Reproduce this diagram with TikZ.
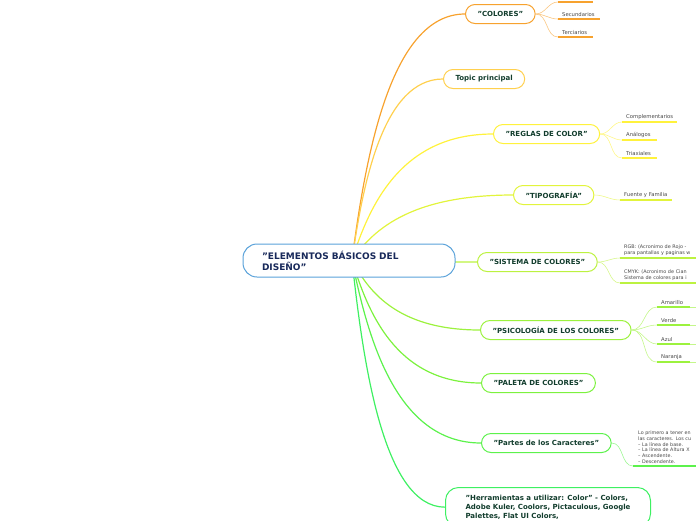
\documentclass[tikz,border=0pt]{standalone}
\usepackage{fontspec}
\setmainfont{DejaVu Sans}
\usetikzlibrary{positioning,calc,backgrounds}
\definecolor{mainblue}{HTML}{5AA2DA}
\definecolor{maintext}{HTML}{18295A}
\definecolor{topictext}{HTML}{123D2D}
\definecolor{subtext}{HTML}{474747}
\definecolor{cColores}{HTML}{F7A22E}
\definecolor{cTopic}{HTML}{FFD04E}
\definecolor{cReglas}{HTML}{FFF23C}
\definecolor{cTipo}{HTML}{E2F43C}
\definecolor{cSistema}{HTML}{BCF240}
\definecolor{cPsico}{HTML}{9CF23E}
\definecolor{cPaleta}{HTML}{7CF23E}
\definecolor{cPartes}{HTML}{5CF24C}
\definecolor{cHerr}{HTML}{3EF062}
\tikzset{
  mapmain/.style={draw=mainblue, line width=1pt, rounded corners=14pt, fill=white,
    minimum width=212pt, minimum height=33pt, text width=174pt, align=left,
    font=\fontsize{9}{11}\selectfont\bfseries, text=maintext},
  maptopic/.style={draw=#1, line width=1pt, rounded corners=9.5pt, fill=white,
    minimum height=19pt, inner xsep=12pt, font=\fontsize{7}{8}\selectfont\bfseries,
    text=topictext, anchor=west},
  mapbranch/.style={draw=#1, line width=1.2pt},
  mapsub/.style={anchor=south west, inner xsep=4pt, inner ysep=2.5pt,
    align=left, font=\fontsize{5.3}{6.2}\selectfont, text=subtext},
  mapline/.style={draw=#1, line width=1.5pt},
  maptwig/.style={draw=#1!60, line width=0.6pt},
}

\begin{document}
\begin{tikzpicture}[x=1pt, y=-1pt]
  \useasboundingbox (0,0) rectangle (696,520);
  % tema central
  \node[mapmain] (main) at (349,260.5) {"ELEMENTOS BÁSICOS DEL\\DISEÑO"};
  \coordinate (hub) at (352,260);
  % temas principales
  \node[maptopic=cColores] (colores) at (465,14) {"COLORES"};
  \node[maptopic=cTopic] (topic) at (443,79) {Topic principal};
  \node[maptopic=cReglas] (reglas) at (493,134) {"REGLAS DE COLOR"};
  \node[maptopic=cTipo] (tipo) at (513,195) {"TIPOGRAFÍA"};
  \node[maptopic=cSistema] (sistema) at (477,262) {"SISTEMA DE COLORES"};
  \node[maptopic=cPsico] (psico) at (480,330) {"PSICOLOGÍA DE LOS COLORES"};
  \node[maptopic=cPaleta] (paleta) at (481,383) {"PALETA DE COLORES"};
  \node[maptopic=cPartes] (partes) at (481,443) {"Partes de los Caracteres"};
  \node[maptopic=cHerr, anchor=north west, align=left, rounded corners=13pt, inner xsep=15pt,
    inner ysep=7.5pt, minimum width=205pt, font=\fontsize{7}{9}\selectfont\bfseries] (herr) at (445,487)
    {"Herramientas a utilizar: Color" - Colors,\\Adobe Kuler, Coolors, Pictaculous, Google\\Palettes, Flat UI Colors,};
  % subtemas
  \coordinate (prim1) at (558,2);
  \coordinate (prim2) at (593,2);
  \node[mapsub, text width=34pt] (secund) at (558,19) {Secundarios};
  \node[mapsub, text width=27pt] (terc) at (558,37) {Terciarios};
  \node[mapsub] (compl) at (622,122) {Complementarios};
  \node[mapsub, text width=27pt] (analog) at (622,140) {Análogos};
  \node[mapsub, text width=27pt] (triax) at (622,158) {Triaxiales};
  \node[mapsub] (fuente) at (620,200) {Fuente y Familia};
  \node[mapsub, text width=82pt, font=\fontsize{4.9}{6.2}\selectfont] (rgb) at (620,258)
    {RGB: (Acronimo de Rojo -\\para pantallas y paginas w};
  \node[mapsub, text width=82pt, font=\fontsize{4.9}{6.2}\selectfont] (cmyk) at (620,283)
    {CMYK: (Acronimo de Cian\\Sistema de colores para i};
  \node[mapsub, text width=25pt] (amar) at (657,307) {Amarillo};
  \node[mapsub, text width=25pt] (verde) at (657,325) {Verde};
  \node[mapsub, text width=25pt] (azul) at (657,344) {Azul};
  \node[mapsub, text width=25pt] (naran) at (657,362) {Naranja};
  \node[mapsub, text width=62pt, inner xsep=5pt, font=\fontsize{4.8}{5.7}\selectfont] (lineas) at (633,466)
    {Lo primero a tener en\\las caracteres. Los cu\\– La línea de base.\\– La línea de Altura X\\– Ascendente.\\– Descendente.};
  \coordinate (edge) at (700,0);
  % ramas
  \begin{scope}[on background layer]
    \foreach \t/\c in {colores/cColores, topic/cTopic, reglas/cReglas, tipo/cTipo, sistema/cSistema,
                       psico/cPsico, paleta/cPaleta, partes/cPartes, herr/cHerr}
      \draw[mapbranch=\c] let \p1=(hub), \p2=(\t.west) in
        (\p1) .. controls (\x1+0.12*\x2-0.12*\x1, \y1+0.42*\y2-0.42*\y1)
                     and (\x1+0.34*\x2-0.34*\x1, \y2) .. (\p2);
  \end{scope}
  % subramas
  \draw[maptwig=cColores] (colores.east) to[out=0, in=180] (prim1);
  \draw[mapline=cColores] (prim1) -- (prim2);
  \foreach \s in {secund,terc} {
    \draw[maptwig=cColores] (colores.east) to[out=0, in=180] (\s.south west);
    \draw[mapline=cColores] (\s.south west) -- (\s.south east);
  }
  \foreach \s in {compl,analog,triax} {
    \draw[maptwig=cReglas] (reglas.east) to[out=0, in=180] (\s.south west);
    \draw[mapline=cReglas] (\s.south west) -- (\s.south east);
  }
  \draw[maptwig=cTipo] (tipo.east) to[out=0, in=180] (fuente.south west);
  \draw[mapline=cTipo] (fuente.south west) -- (fuente.south east);
  \foreach \s in {rgb,cmyk} {
    \draw[maptwig=cSistema] (sistema.east) to[out=0, in=180] (\s.south west);
    \draw[mapline=cSistema] (\s.south west) -- (\s.south east);
  }
  \foreach \s in {amar,verde,azul,naran} {
    \draw[maptwig=cPsico] (psico.east) to[out=0, in=180] (\s.south west);
    \draw[mapline=cPsico] (\s.south west) -- (\s.south east);
    \draw[maptwig=cPsico] (\s.south east) -- (\s.south east -| edge);
  }
  \draw[maptwig=cPartes] (partes.east) to[out=0, in=180] (lineas.south west);
  \draw[mapline=cPartes] (lineas.south west) -- (lineas.south east);
\end{tikzpicture}
\end{document}
